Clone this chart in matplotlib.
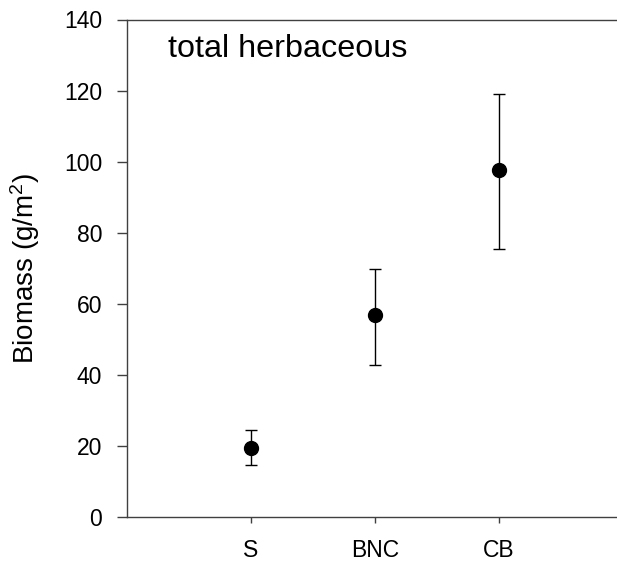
import matplotlib
matplotlib.use("Agg")
import matplotlib.pyplot as plt
import numpy as np

plt.rcParams["font.family"] = ["Liberation Sans", "DejaVu Sans"]
plt.rcParams["mathtext.fontset"] = "custom"
plt.rcParams["mathtext.rm"] = "Liberation Sans"
plt.rcParams["mathtext.it"] = "Liberation Sans"

# donnees
sites = ["S", "BNC", "CB"]
biomass = [19.4, 56.8, 97.6]
err_low = [14.75, 42.9, 75.4]
err_high = [24.4, 69.9, 119.0]
y_ticks = [0, 20, 40, 60, 80, 100, 120, 140]

x = np.arange(1, len(sites) + 1)
mean = np.array(biomass)
yerr = [mean - np.array(err_low), np.array(err_high) - mean]

fig = plt.figure(figsize=(6.17, 5.64), dpi=100)
ax = fig.add_axes([127 / 617, 1 - 517 / 564, 1 - 127 / 617, (517 - 19.5) / 564])

ax.errorbar(x, mean, yerr=yerr, fmt="o", color="black", ms=10,
            elinewidth=1.0, capsize=4.3, capthick=1.0)

ax.set_xlim(0, (617 - 127) / 124)
ax.set_ylim(0, 140)
ax.set_xticks(x)
ax.set_xticklabels(sites)
ax.set_yticks(y_ticks)

spine_col = "#404040"
for side in ["left", "bottom", "top"]:
    ax.spines[side].set_color(spine_col)
    ax.spines[side].set_linewidth(1.0)
ax.spines["right"].set_visible(False)

ax.tick_params(axis="y", direction="out", length=7.5, width=1.0, color=spine_col,
               labelsize=16.5, pad=10.5)
ax.tick_params(axis="x", direction="out", length=4.5, width=1.0, color=spine_col,
               labelsize=16.5, pad=11.5)

ax.set_ylabel(r"Biomass (g/m$^2$)", fontsize=20, labelpad=16)
ax.text(0.084, 0.925, "total herbaceous", transform=ax.transAxes,
        fontsize=23.3, va="baseline", ha="left")

fig.savefig("out.png", dpi=100)
